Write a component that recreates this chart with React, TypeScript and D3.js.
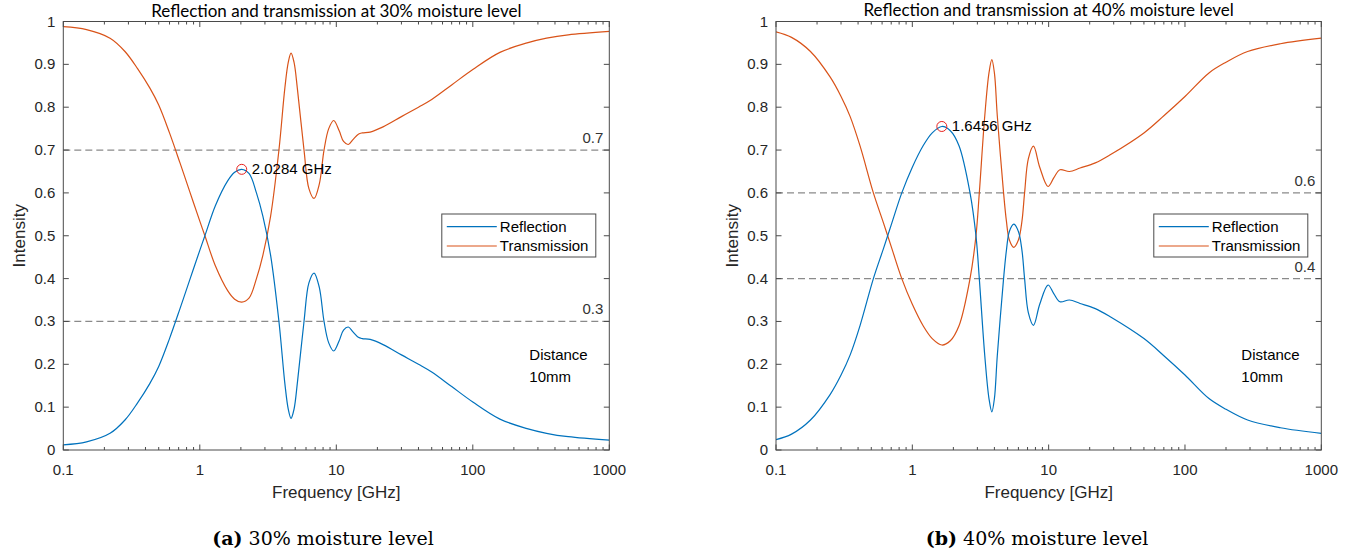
import React from "react";
import * as d3 from "d3";

// ---------- data ----------
const freq30 = [0.1, 0.148, 0.22, 0.283, 0.35, 0.43, 0.5, 0.6, 0.716, 0.85, 1.0, 1.09, 1.3, 1.6, 1.8, 2.0284, 2.3, 2.6, 2.9, 3.3, 3.8, 4.2, 4.45, 4.66, 4.9, 5.2, 5.8, 6.3, 6.87, 7.5, 8.13, 8.8, 9.57, 10.5, 11.3, 12.25, 13.3, 14.5, 15.5, 17.7, 22, 30, 40, 50, 70, 100, 158, 250, 347, 500, 1000];
const reflection30 = [0.012, 0.019, 0.039, 0.07, 0.11, 0.155, 0.195, 0.26, 0.33, 0.4, 0.466, 0.5, 0.57, 0.628, 0.648, 0.655, 0.645, 0.6, 0.545, 0.455, 0.3, 0.155, 0.095, 0.074, 0.095, 0.16, 0.3, 0.39, 0.413, 0.38, 0.3, 0.25, 0.231, 0.255, 0.28, 0.287, 0.275, 0.263, 0.26, 0.258, 0.246, 0.222, 0.2, 0.182, 0.148, 0.112, 0.072, 0.05, 0.039, 0.031, 0.023];
const transmission30 = [0.988, 0.981, 0.961, 0.93, 0.89, 0.845, 0.805, 0.74, 0.67, 0.6, 0.534, 0.5, 0.43, 0.372, 0.352, 0.345, 0.355, 0.4, 0.455, 0.545, 0.7, 0.845, 0.905, 0.926, 0.905, 0.84, 0.7, 0.61, 0.587, 0.62, 0.7, 0.75, 0.769, 0.745, 0.72, 0.713, 0.725, 0.737, 0.74, 0.742, 0.754, 0.778, 0.8, 0.818, 0.852, 0.888, 0.928, 0.95, 0.961, 0.969, 0.977];

const freq40 = [0.1, 0.13, 0.179, 0.25, 0.3, 0.35, 0.414, 0.518, 0.614, 0.708, 0.837, 1.0, 1.2, 1.4, 1.6456, 1.9, 2.2, 2.65, 2.93, 3.1, 3.4, 3.65, 3.83, 4.0, 4.2, 4.67, 4.9, 5.15, 5.55, 6.0, 6.37, 6.66, 7.1, 7.74, 8.6, 9.89, 10.9, 12.1, 14.2, 17, 22, 28.3, 50, 70, 100, 150, 200, 288, 500, 1000];
const reflection40 = [0.024, 0.037, 0.07, 0.13, 0.175, 0.222, 0.291, 0.4, 0.47, 0.53, 0.6, 0.66, 0.71, 0.74, 0.755, 0.745, 0.71, 0.6, 0.5, 0.4, 0.22, 0.12, 0.089, 0.12, 0.22, 0.4, 0.466, 0.51, 0.527, 0.51, 0.466, 0.4, 0.32, 0.291, 0.34, 0.385, 0.365, 0.346, 0.35, 0.342, 0.33, 0.311, 0.26, 0.22, 0.175, 0.12, 0.095, 0.07, 0.052, 0.039];
const transmission40 = [0.976, 0.963, 0.93, 0.87, 0.825, 0.778, 0.709, 0.6, 0.53, 0.47, 0.4, 0.34, 0.29, 0.26, 0.245, 0.255, 0.29, 0.4, 0.5, 0.6, 0.78, 0.88, 0.911, 0.88, 0.78, 0.6, 0.534, 0.49, 0.473, 0.49, 0.534, 0.6, 0.68, 0.709, 0.66, 0.615, 0.635, 0.654, 0.65, 0.658, 0.67, 0.689, 0.74, 0.78, 0.825, 0.88, 0.905, 0.93, 0.948, 0.961];

const xTickValues = [0.1, 1, 10, 100, 1000];
const xTickLabels = ["0.1", "1", "10", "100", "1000"];
const yTickValues = [0, 0.1, 0.2, 0.3, 0.4, 0.5, 0.6, 0.7, 0.8, 0.9, 1];
const yTickLabels = ["0", "0.1", "0.2", "0.3", "0.4", "0.5", "0.6", "0.7", "0.8", "0.9", "1"];

const thresholds30 = [0.7, 0.3];
const thresholds40 = [0.6, 0.4];
const peak30 = { f: 2.0284, v: 0.655, label: "2.0284 GHz" };
const peak40 = { f: 1.6456, v: 0.755, label: "1.6456 GHz" };

const titles = ["Reflection and transmission at 30% moisture level", "Reflection and transmission at 40% moisture level"];
const captionTags = ["(a)", "(b)"];
const captionTexts = ["30% moisture level", "40% moisture level"];
const legendLabels = ["Reflection", "Transmission"];

// ---------- styles ----------
const BLUE = "#0072BD";
const ORANGE = "#D95319";
const AXIS = "#4a4a4a";
const TXT = "#262626";
const SANS = "'Liberation Sans', Arial, Helvetica, sans-serif";
const TITLE_FONT = "Lato, 'Open Sans', sans-serif";
const SERIF = "'DejaVu Serif', 'Liberation Serif', serif";

type PanelProps = {
  id: string;
  x0: number;
  x1: number;
  titleY: number;
  title: string;
  freq: number[];
  refl: number[];
  trans: number[];
  thresholds: number[];
  peak: { f: number; v: number; label: string };
  tag: string;
  caption: string;
  captionX: number;
};

const Y0 = 450;
const Y1 = 21.5;

function Panel(p: PanelProps) {
  const x = d3.scaleLog().domain([0.1, 1000]).range([p.x0, p.x1]);
  const y = d3.scaleLinear().domain([0, 1]).range([Y0, Y1]);
  const line = d3
    .line<number>()
    .x((_, i) => x(p.freq[i]))
    .y((d) => y(d))
    .curve(d3.curveCatmullRom.alpha(0.5));
  const minor: number[] = [];
  [0.1, 1, 10, 100].forEach((d) => {
    for (let k = 2; k <= 9; k++) minor.push(d * k);
  });
  const cx = (p.x0 + p.x1) / 2;
  const cy = (Y0 + Y1) / 2;
  const legX = p.x1 - 167.5;
  const legY = 214;
  return (
    <g>
      <defs>
        <clipPath id={"clip" + p.id}>
          <rect x={p.x0} y={Y1} width={p.x1 - p.x0} height={Y0 - Y1} />
        </clipPath>
      </defs>
      <text x={cx} y={p.titleY} textAnchor="middle" fontFamily={TITLE_FONT} fontSize={17} fill="#000">
        {p.title}
      </text>
      {/* threshold dashed lines */}
      {p.thresholds.map((t) => (
        <g key={t}>
          <line x1={p.x0} x2={p.x1} y1={y(t)} y2={y(t)} stroke="#8a8a8a" strokeWidth={1.2} strokeDasharray="7,4" />
          <text x={p.x1 - 6} y={y(t) - 7} textAnchor="end" fontFamily={SANS} fontSize={15} fill="#333">
            {String(t)}
          </text>
        </g>
      ))}
      {/* curves */}
      <g clipPath={`url(#clip${p.id})`}>
        <path d={line(p.trans) || ""} fill="none" stroke={ORANGE} strokeWidth={1.2} />
        <path d={line(p.refl) || ""} fill="none" stroke={BLUE} strokeWidth={1.2} />
      </g>
      {/* peak marker */}
      <circle cx={x(p.peak.f)} cy={y(p.peak.v)} r={5} fill="none" stroke="#e8211d" strokeWidth={1} />
      <text x={x(p.peak.f) + 10} y={y(p.peak.v) + 5} fontFamily={SANS} fontSize={15} fill="#000">
        {p.peak.label}
      </text>
      {/* axes box */}
      <rect x={p.x0} y={Y1} width={p.x1 - p.x0} height={Y0 - Y1} fill="none" stroke={AXIS} strokeWidth={1} />
      {xTickValues.map((v, i) => (
        <g key={"xt" + v}>
          <line x1={x(v)} x2={x(v)} y1={Y0} y2={Y0 - 5.5} stroke={AXIS} />
          <line x1={x(v)} x2={x(v)} y1={Y1} y2={Y1 + 5.5} stroke={AXIS} />
          <text x={x(v)} y={475} textAnchor="middle" fontFamily={SANS} fontSize={15} fill={TXT}>
            {xTickLabels[i]}
          </text>
        </g>
      ))}
      {minor.map((v) => (
        <g key={"mt" + v}>
          <line x1={x(v)} x2={x(v)} y1={Y0} y2={Y0 - 3} stroke={AXIS} />
          <line x1={x(v)} x2={x(v)} y1={Y1} y2={Y1 + 3} stroke={AXIS} />
        </g>
      ))}
      {yTickValues.map((v, i) => (
        <g key={"yt" + v}>
          <line x1={p.x0} x2={p.x0 + 5.5} y1={y(v)} y2={y(v)} stroke={AXIS} />
          <line x1={p.x1} x2={p.x1 - 5.5} y1={y(v)} y2={y(v)} stroke={AXIS} />
          <text x={p.x0 - 8} y={y(v) + 5} textAnchor="end" fontFamily={SANS} fontSize={15} fill={TXT}>
            {yTickLabels[i]}
          </text>
        </g>
      ))}
      {/* legend */}
      <rect x={legX} y={legY} width={154} height={43} fill="#fff" stroke={AXIS} strokeWidth={1} />
      {legendLabels.map((lab, i) => (
        <g key={lab}>
          <line x1={legX + 5} x2={legX + 55} y1={legY + 12.7 + i * 19.3} y2={legY + 12.7 + i * 19.3} stroke={i === 0 ? BLUE : ORANGE} strokeWidth={1.2} />
          <text x={legX + 58} y={legY + 18 + i * 19.3} fontFamily={SANS} fontSize={15} fill="#000">
            {lab}
          </text>
        </g>
      ))}
      {/* annotation */}
      <text x={p.x1 - 80} y={360} fontFamily={SANS} fontSize={15} fill="#000">
        Distance
      </text>
      <text x={p.x1 - 80} y={382} fontFamily={SANS} fontSize={15} fill="#000">
        10mm
      </text>
      {/* axis labels */}
      <text x={cx} y={498} textAnchor="middle" fontFamily={SANS} fontSize={17} fill={TXT}>
        Frequency [GHz]
      </text>
      <text transform={`translate(${p.x0 - 38},${cy}) rotate(-90)`} textAnchor="middle" fontFamily={SANS} fontSize={17} fill={TXT}>
        Intensity
      </text>
      {/* caption */}
      <text x={p.captionX} y={545} textAnchor="middle" fontFamily={SERIF} fontSize={19} fill="#000">
        <tspan fontWeight="bold">{p.tag}</tspan>
        <tspan> {p.caption}</tspan>
      </text>
    </g>
  );
}

export default function App() {
  return (
    <svg width={1354} height={556} style={{ position: "absolute", left: 0, top: 0, background: "#fff" }}>
      <rect width={1354} height={556} fill="#fff" />
      <Panel
        id="a"
        x0={63.3}
        x1={609.3}
        titleY={17}
        title={titles[0]}
        freq={freq30}
        refl={reflection30}
        trans={transmission30}
        thresholds={thresholds30}
        peak={peak30}
        tag={captionTags[0]}
        caption={captionTexts[0]}
        captionX={323}
      />
      <Panel
        id="b"
        x0={776}
        x1={1321.3}
        titleY={16}
        title={titles[1]}
        freq={freq40}
        refl={reflection40}
        trans={transmission40}
        thresholds={thresholds40}
        peak={peak40}
        tag={captionTags[1]}
        caption={captionTexts[1]}
        captionX={1037}
      />
    </svg>
  );
}
